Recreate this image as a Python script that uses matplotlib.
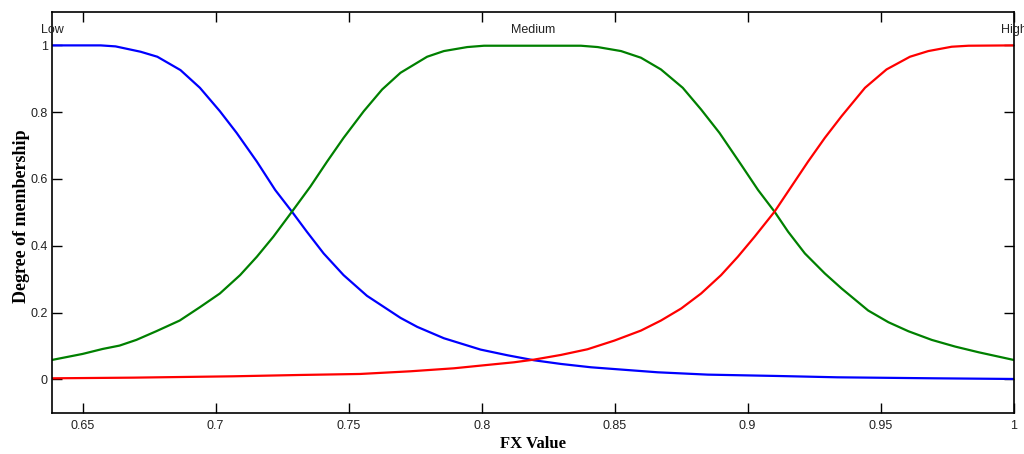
import matplotlib
matplotlib.use("Agg")
import matplotlib.pyplot as plt

# ---- data ----
low_x = [0.6385, 0.6568, 0.6624, 0.6718, 0.6781, 0.6868, 0.6941, 0.7016, 0.7079, 0.7155,
         0.7224, 0.7287, 0.7343, 0.7406, 0.7481, 0.7569, 0.7695, 0.7758, 0.7858, 0.7996,
         0.8097, 0.8197, 0.8298, 0.8411, 0.8511, 0.8662, 0.8850, 0.9110, 0.9337, 0.9701, 1.0]
low_y = [1.0, 1.0, 0.997, 0.981, 0.966, 0.926, 0.873, 0.803, 0.738, 0.652,
         0.567, 0.502, 0.442, 0.377, 0.312, 0.250, 0.184, 0.157, 0.123, 0.089,
         0.072, 0.057, 0.046, 0.036, 0.030, 0.021, 0.014, 0.010, 0.006, 0.003, 0.001]

med_x = [0.6385, 0.6500, 0.6576, 0.6639, 0.6702, 0.6777, 0.6865, 0.6941, 0.7016, 0.7092,
         0.7155, 0.7217, 0.7287, 0.7356, 0.7419, 0.7481, 0.7557, 0.7626, 0.7695, 0.7795,
         0.7858, 0.7946, 0.8009, 0.8373, 0.8436, 0.8524, 0.8599, 0.8674, 0.8756, 0.8825,
         0.8894, 0.8976, 0.9039, 0.9101, 0.9152, 0.9215, 0.9290, 0.9353, 0.9453, 0.9529,
         0.9604, 0.9692, 0.9780, 0.9868, 1.0]
med_y = [0.058, 0.076, 0.091, 0.101, 0.118, 0.144, 0.176, 0.216, 0.257, 0.312,
         0.367, 0.427, 0.502, 0.577, 0.652, 0.723, 0.803, 0.868, 0.918, 0.966,
         0.983, 0.995, 0.999, 0.999, 0.995, 0.983, 0.963, 0.928, 0.873, 0.808,
         0.738, 0.642, 0.567, 0.502, 0.442, 0.377, 0.317, 0.272, 0.206, 0.171,
         0.144, 0.118, 0.098, 0.081, 0.058]

high_x = [0.6385, 0.6693, 0.7066, 0.7318, 0.7543, 0.7732, 0.7896, 0.8021, 0.8122, 0.8197,
          0.8298, 0.8398, 0.8499, 0.8599, 0.8674, 0.8750, 0.8825, 0.8900, 0.8963, 0.9026,
          0.9101, 0.9164, 0.9227, 0.9290, 0.9353, 0.9441, 0.9522, 0.9610, 0.9679, 0.9767,
          0.9830, 1.0]
high_y = [0.003, 0.005, 0.009, 0.013, 0.016, 0.024, 0.033, 0.043, 0.051, 0.059,
          0.073, 0.090, 0.116, 0.146, 0.176, 0.212, 0.257, 0.312, 0.367, 0.427,
          0.502, 0.577, 0.652, 0.723, 0.788, 0.873, 0.928, 0.966, 0.983, 0.996,
          0.999, 1.0]

mf_names = ["Low", "Medium", "High"]
mf_label_x = [0.6385, 0.8192, 1.0]

xticks = [0.65, 0.7, 0.75, 0.8, 0.85, 0.9, 0.95, 1.0]
xtick_labels = ["0.65", "0.7", "0.75", "0.8", "0.85", "0.9", "0.95", "1"]
yticks = [0, 0.2, 0.4, 0.6, 0.8, 1.0]
ytick_labels = ["0", "0.2", "0.4", "0.6", "0.8", "1"]

# ---- figure ----
fig = plt.figure(figsize=(10.24, 4.54), dpi=100)
ax = fig.add_axes([52 / 1024, (454 - 412.7) / 454, (1013.7 - 52) / 1024, (412.7 - 12) / 454])

ax.plot(low_x, low_y, color=(0, 0, 1), lw=1.6)
ax.plot(med_x, med_y, color=(0, 0.5, 0), lw=1.6)
ax.plot(high_x, high_y, color=(1, 0, 0), lw=1.6)

for name, xc in zip(mf_names, mf_label_x):
    ax.text(xc, 1.047, name, ha="center", va="center", fontsize=9,
            family="Liberation Sans", color="#222222", clip_on=False)

ax.set_xlim(0.6385, 1.0)
ax.set_ylim(-0.1, 1.1)
ax.set_xticks(xticks)
ax.set_xticklabels(xtick_labels, family="Liberation Sans", fontsize=9, color="#222222")
ax.set_yticks(yticks)
ax.set_yticklabels(ytick_labels, family="Liberation Sans", fontsize=9, color="#222222")
ax.tick_params(direction="in", top=True, right=True, length=7, width=1.0)
ax.tick_params(axis="x", pad=5)
ax.tick_params(axis="y", pad=3)
for s in ax.spines.values():
    s.set_linewidth(1.2)

ax.set_xlabel("FX Value", family="Liberation Serif", fontweight="bold", fontsize=12)
ax.set_ylabel("Degree of membership", family="Liberation Serif", fontweight="bold", fontsize=13)
ax.xaxis.set_label_coords(0.5, -0.058)
ax.yaxis.set_label_coords(-0.023, 0.49)

fig.savefig("out.png", dpi=100)
